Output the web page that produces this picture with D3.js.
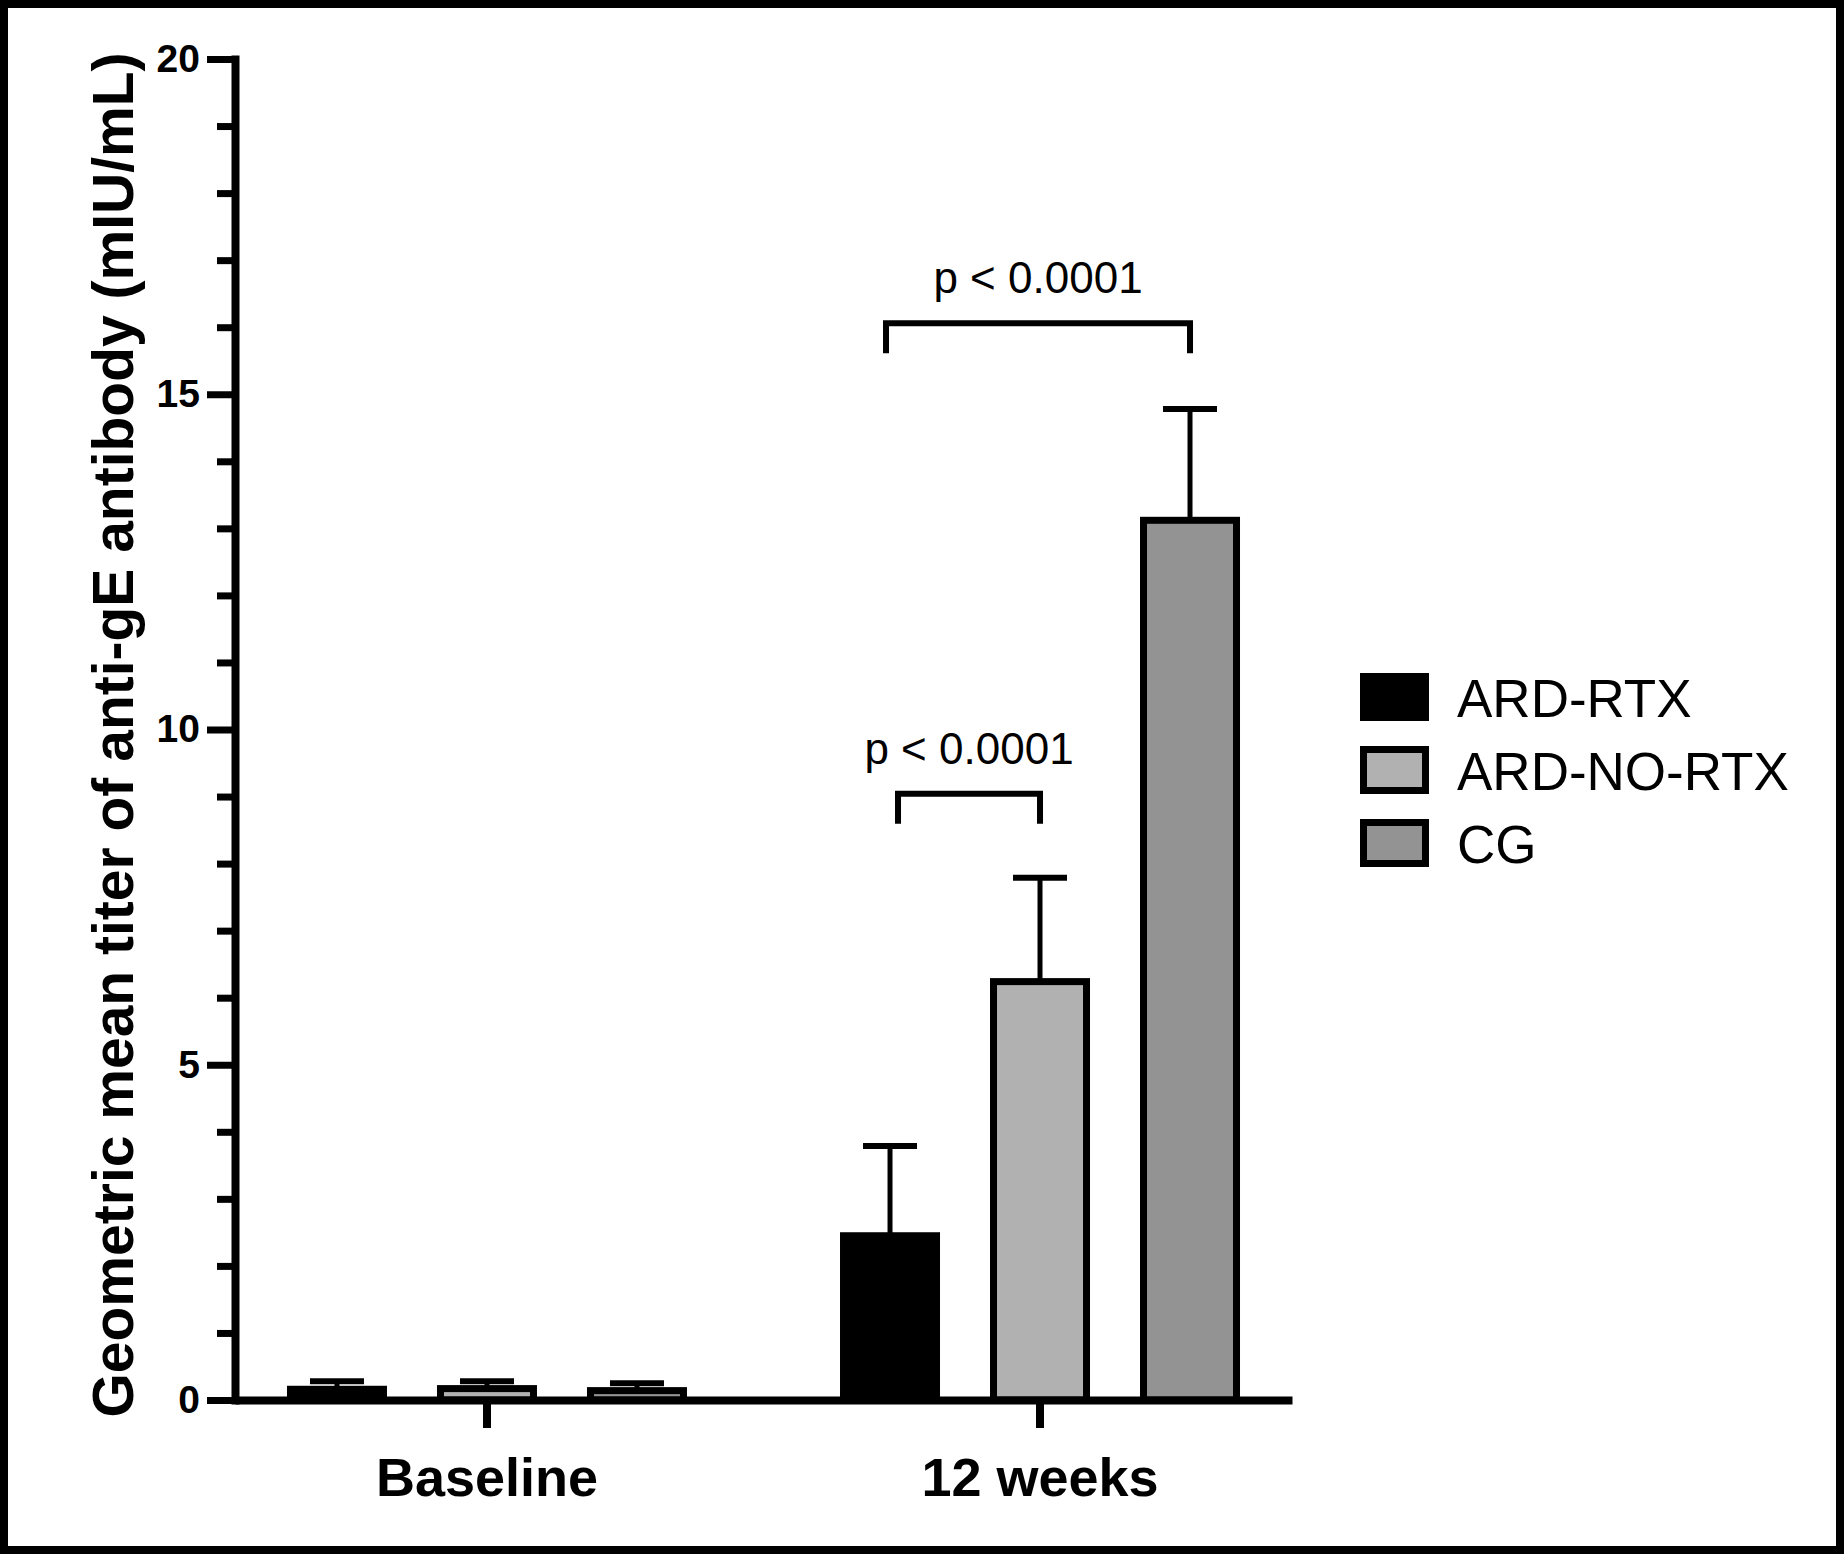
<!DOCTYPE html>
<html>
<head>
<meta charset="utf-8">
<script src="https://cdn.jsdelivr.net/npm/d3@7"></script>
<style>
  body { margin: 0; background: #fff; }
  text { font-family: "Liberation Sans", Arial, sans-serif; }
</style>
</head>
<body>
<div id="chart"></div>
<script>
const width = 1844;
const height = 1554;

// DATA
const groups = ["Baseline", "12 weeks"];
const series = ["ARD-RTX", "ARD-NO-RTX", "CG"];
const baselineMeans = [0.16, 0.17, 0.14];
const baselineErrors = [0.12, 0.11, 0.11];
const week12Means = [2.45, 6.24, 13.12];
const week12Errors = [1.34, 1.55, 1.66];
const fills = ["#000000", "#b1b1b1", "#939393"];
const yTicks = [0, 5, 10, 15, 20];
const comparisons = [
  { from: "ARD-RTX", to: "CG", level: 16.06, label: "p < 0.0001" },
  { from: "ARD-RTX", to: "ARD-NO-RTX", level: 9.04, label: "p < 0.0001" }
];

const rows = [];
groups.forEach((g, gi) => {
  const means = gi == 0 ? baselineMeans : week12Means;
  const errs = gi == 0 ? baselineErrors : week12Errors;
  series.forEach((s, si) => {
    rows.push({ group: g, series: s, value: means[si], err: errs[si] });
  });
});

const svg = d3
  .select("#chart")
  .append("svg")
  .attr("width", width)
  .attr("height", height)
  .style("background-color", "white");

// frame
svg.append("rect")
  .attr("x", 4).attr("y", 4)
  .attr("width", width - 8).attr("height", height - 8)
  .attr("fill", "none")
  .attr("stroke", "black")
  .attr("stroke-width", 8);

// SCALES
const y = d3.scaleLinear().domain([0, 20]).range([1400, 59]);

const x0 = d3.scaleBand()
  .domain(groups)
  .range([235, 1292])
  .paddingInner(0.1863)
  .paddingOuter(0.0488);

const x1 = d3.scaleBand()
  .domain(series)
  .range([0, x0.bandwidth()])
  .paddingInner(0.38)
  .paddingOuter(0.19);

const color = d3.scaleOrdinal().domain(series).range(fills);

const cx = (g, s) => x0(g) + x1(s) + x1.bandwidth() / 2;

// BARS
const bars = svg.append("g");
bars.selectAll("rect")
  .data(rows)
  .join("rect")
  .attr("x", d => x0(d.group) + x1(d.series))
  .attr("y", d => y(d.value))
  .attr("width", x1.bandwidth())
  .attr("height", d => y(0) - y(d.value))
  .attr("fill", d => color(d.series))
  .attr("stroke", "black")
  .attr("stroke-width", 7);

// ERROR BARS
const errs = svg.append("g").attr("stroke", "black");
errs.selectAll("line.stem")
  .data(rows)
  .join("line")
  .attr("class", "stem")
  .attr("x1", d => cx(d.group, d.series))
  .attr("x2", d => cx(d.group, d.series))
  .attr("y1", d => y(d.value))
  .attr("y2", d => y(d.value + d.err))
  .attr("stroke-width", 5);
errs.selectAll("line.cap")
  .data(rows)
  .join("line")
  .attr("class", "cap")
  .attr("x1", d => cx(d.group, d.series) - 27)
  .attr("x2", d => cx(d.group, d.series) + 27)
  .attr("y1", d => y(d.value + d.err))
  .attr("y2", d => y(d.value + d.err))
  .attr("stroke-width", 6);

// AXES
const yMinor = svg.append("g")
  .attr("transform", "translate(235,0)")
  .call(d3.axisLeft(y).tickValues(d3.range(0, 21, 1).filter(v => v % 5 != 0)).tickSize(18).tickFormat(""));
yMinor.select(".domain").remove();
yMinor.selectAll("line").attr("stroke-width", 7);

const yAxis = svg.append("g")
  .attr("transform", "translate(235,0)")
  .call(d3.axisLeft(y).tickValues(yTicks).tickSize(28).tickSizeOuter(0).tickPadding(7));
yAxis.select(".domain").attr("stroke-width", 8).attr("stroke-linecap", "square");
yAxis.selectAll(".tick line").attr("stroke-width", 7);
yAxis.selectAll(".tick text")
  .style("font-size", "39px")
  .style("font-weight", "bold")
  .style("font-family", "'Liberation Sans', Arial, sans-serif")
  .attr("fill", "black");

const xAxis = svg.append("g")
  .attr("transform", "translate(0,1400)")
  .call(d3.axisBottom(x0).tickSize(28).tickSizeOuter(0).tickPadding(30));
xAxis.select(".domain").attr("stroke-width", 8);
xAxis.selectAll(".tick line").attr("stroke-width", 8);
xAxis.selectAll(".tick text")
  .style("font-size", "54px")
  .style("font-weight", "bold")
  .style("font-family", "'Liberation Sans', Arial, sans-serif")
  .attr("fill", "black");

// Y LABEL
svg.append("text")
  .attr("transform", "translate(133,735) rotate(-90)")
  .attr("text-anchor", "middle")
  .attr("font-size", 57)
  .attr("font-weight", "bold")
  .text("Geometric mean titer of anti-gE antibody (mIU/mL)");

// SIGNIFICANCE BRACKETS
const brackets = svg.append("g");
comparisons.forEach((c, i) => {
  const xa = cx("12 weeks", c.from) + (i == 1 ? 8 : -4);
  const xb = cx("12 weeks", c.to);
  const yl = y(c.level);
  brackets.append("path")
    .attr("d", `M${xa},${yl + 30}V${yl}H${xb}V${yl + 30}`)
    .attr("fill", "none")
    .attr("stroke", "black")
    .attr("stroke-width", 6);
  brackets.append("text")
    .attr("x", (xa + xb) / 2)
    .attr("y", yl - 30)
    .attr("text-anchor", "middle")
    .attr("font-size", 44)
    .text(c.label);
});

// LEGEND
const legend = svg.append("g").attr("transform", "translate(1360,697)");
const items = legend.selectAll("g")
  .data(series)
  .join("g")
  .attr("transform", (d, i) => `translate(0,${i * 73})`);
items.append("rect")
  .attr("x", 3.5).attr("y", -20.5)
  .attr("width", 62).attr("height", 41)
  .attr("fill", d => color(d))
  .attr("stroke", "black")
  .attr("stroke-width", 7);
items.append("text")
  .attr("x", 97)
  .attr("y", 20)
  .attr("font-size", 53)
  .text(d => d);
</script>
</body>
</html>
